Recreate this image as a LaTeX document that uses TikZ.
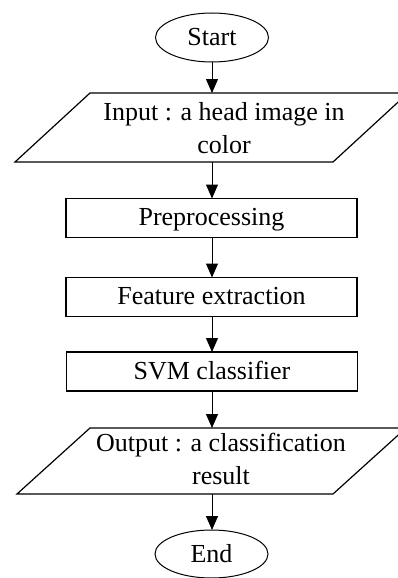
\documentclass[tikz,border=0pt]{standalone}
\usepackage{fontspec}
\setmainfont{Liberation Serif}
\usetikzlibrary{shapes.geometric,arrows.meta}
\begin{document}
\begin{tikzpicture}[x=1pt,y=-1pt,
  every node/.style={font=\fontsize{26}{32.5}\selectfont, inner sep=0pt, outer sep=0pt},
  term/.style={ellipse, draw, line width=1pt, minimum width=113pt, minimum height=49pt},
  procbox/.style={rectangle, draw, line width=1.2pt, minimum width=291pt, minimum height=39pt, text height=18pt, text depth=3pt},
  ioframe/.style={rectangle, draw=none, minimum height=#1},
  iotext/.style={align=center},
  ioshape/.style={draw, line width=1.2pt},
  arr/.style={line width=1pt, -{Triangle[width=12pt,length=14pt]}}]
\useasboundingbox (0,0) rectangle (398,578);
\clip (0,0) rectangle (398,578);
\fill[white] (0,0) rectangle (398,578);

% Start
\node[term] (start) at (212,37.5) {Start};

% Input parallelogram
\node[ioframe=69pt, minimum width=318pt] (inpshape) at (211.5,127.5) {};
\draw[ioshape] ([xshift=-37.5pt]inpshape.south west) -- ([xshift=-37.5pt]inpshape.south east)
  -- ([xshift=37.5pt]inpshape.north east) -- ([xshift=37.5pt]inpshape.north west) -- cycle;
\node[iotext] (inptext) at (224,128) {Input : a head image in\\color};

% Process boxes
\node[procbox] (pre) at (211.5,218) {Preprocessing};
\node[procbox] (feat) at (211.5,297) {Feature extraction};
\node[procbox] (svm) at (212,371.5) {SVM classifier};

% Output parallelogram
\node[ioframe=66pt, minimum width=316pt] (outshape) at (211.5,461) {};
\draw[ioshape] ([xshift=-36.5pt]outshape.south west) -- ([xshift=-36.5pt]outshape.south east)
  -- ([xshift=36.5pt]outshape.north east) -- ([xshift=36.5pt]outshape.north west) -- cycle;
\node[iotext] (outtext) at (221,459) {Output : a classification\\result};

% End
\node[term, minimum height=48pt] (end) at (211.5,554) {End};

% Connectors
\draw[arr] (start.south) -- (start.south |- inpshape.north);
\draw[arr] (inpshape.south -| start.south) -- (pre.north -| start.south);
\draw[arr] (pre.south -| start.south) -- (feat.north -| start.south);
\draw[arr] (feat.south -| start.south) -- (svm.north -| start.south);
\draw[arr] (svm.south -| start.south) -- (outshape.north -| start.south);
\draw[arr] (outshape.south -| start.south) -- (end.north -| start.south);
\end{tikzpicture}
\end{document}
